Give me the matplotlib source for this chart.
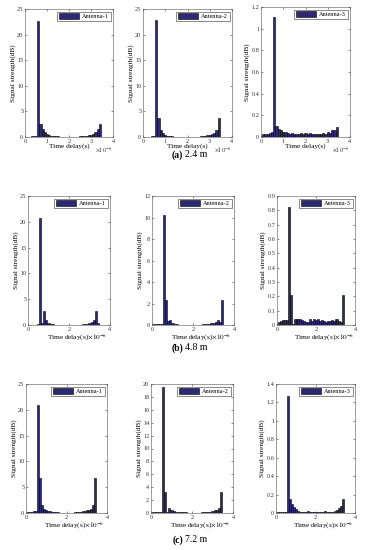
import matplotlib
matplotlib.use("Agg")
import matplotlib.pyplot as plt
from matplotlib.ticker import FormatStrFormatter

plt.rcParams['font.family'] = ['Liberation Serif', 'DejaVu Serif']
plt.rcParams['mathtext.fontset'] = 'stix'

# bar centres (x 10^-6 s)
delay = [0.1, 0.2, 0.3, 0.4, 0.5, 0.6, 0.7, 0.8, 0.9, 1.0, 1.1, 1.2, 1.3, 1.4, 1.5, 1.6, 1.7,
         1.8, 1.9, 2.0, 2.1, 2.2, 2.3, 2.4, 2.5, 2.6, 2.7, 2.8, 2.9, 3.0, 3.1, 3.2, 3.3, 3.4]

# 2.4 m
a24_1 = [0.05, 0.08, 0.1, 0.15, 0.25, 22.6, 2.5, 1.6, 0.9, 0.55, 0.35, 0.25, 0.18, 0.14, 0.1, 0.08, 0.07,
         0.06, 0.05, 0.05, 0.05, 0.06, 0.07, 0.08, 0.1, 0.13, 0.17, 0.22, 0.3, 0.42, 0.6, 0.95, 1.5, 2.5]
a24_2 = [0.05, 0.06, 0.08, 0.12, 0.2, 22.8, 3.7, 1.3, 0.8, 0.45, 0.28, 0.18, 0.12, 0.09, 0.07, 0.05, 0.04,
         0.04, 0.03, 0.03, 0.03, 0.04, 0.05, 0.06, 0.08, 0.1, 0.15, 0.2, 0.3, 0.45, 0.65, 0.85, 1.3, 3.7]
a24_3 = [0.03, 0.03, 0.03, 0.035, 0.045, 1.11, 0.1, 0.07, 0.065, 0.045, 0.05, 0.035, 0.03, 0.035, 0.03, 0.025, 0.03,
         0.035, 0.03, 0.035, 0.03, 0.035, 0.03, 0.025, 0.03, 0.03, 0.03, 0.035, 0.03, 0.045, 0.035, 0.06, 0.065, 0.095]
# 4.8 m
a48_1 = [0.05, 0.05, 0.06, 0.08, 0.1, 20.7, 0.4, 2.8, 1.0, 0.3, 0.15, 0.1, 0.08, 0.06, 0.05, 0.04, 0.04,
         0.03, 0.03, 0.03, 0.03, 0.03, 0.04, 0.05, 0.06, 0.08, 0.1, 0.15, 0.2, 0.3, 0.5, 1.0, 2.8, 0.4]
a48_2 = [0.05, 0.05, 0.05, 0.06, 0.08, 10.2, 2.3, 0.35, 0.5, 0.2, 0.08, 0.05, 0.04, 0.03, 0.03, 0.03, 0.03,
         0.03, 0.03, 0.03, 0.03, 0.03, 0.03, 0.04, 0.05, 0.06, 0.08, 0.1, 0.15, 0.2, 0.3, 0.5, 0.3, 2.3]
a48_3 = [0.02, 0.03, 0.035, 0.035, 0.035, 0.82, 0.21, 0.01, 0.04, 0.045, 0.04, 0.04, 0.035, 0.03, 0.02, 0.02, 0.04,
         0.025, 0.04, 0.035, 0.04, 0.03, 0.035, 0.025, 0.02, 0.03, 0.03, 0.035, 0.03, 0.045, 0.04, 0.03, 0.02, 0.21]
# 7.2 m
a72_1 = [0.2, 0.22, 0.25, 0.3, 0.4, 21.0, 6.8, 1.5, 0.7, 0.5, 0.4, 0.3, 0.22, 0.17, 0.13, 0.1, 0.08,
         0.07, 0.06, 0.06, 0.06, 0.07, 0.08, 0.1, 0.13, 0.17, 0.22, 0.3, 0.4, 0.5, 0.6, 0.7, 1.5, 6.8]
a72_2 = [0.1, 0.15, 0.12, 0.1, 0.15, 19.6, 3.3, 0.15, 0.7, 0.45, 0.3, 0.2, 0.15, 0.1, 0.15, 0.1, 0.08,
         0.06, 0.05, 0.05, 0.05, 0.05, 0.05, 0.06, 0.08, 0.1, 0.12, 0.15, 0.2, 0.3, 0.4, 0.5, 0.7, 3.3]
a72_3 = [0.01, 0.01, 0.01, 0.012, 0.015, 1.27, 0.155, 0.1, 0.06, 0.04, 0.02, 0.015, 0.01, 0.01, 0.015, 0.02, 0.015,
         0.01, 0.008, 0.008, 0.008, 0.01, 0.01, 0.015, 0.02, 0.015, 0.01, 0.008, 0.01, 0.02, 0.03, 0.05, 0.08, 0.155]

rows = [[a24_1, a24_2, a24_3], [a48_1, a48_2, a48_3], [a72_1, a72_2, a72_3]]
labels = ['Antenna-1', 'Antenna-2', 'Antenna-3']
ymax = [[25, 25, 1.2], [25, 12, 0.9], [25, 20, 1.4]]
ystep = [[5, 5, 0.2], [5, 2, 0.1], [5, 2, 0.2]]
captions = [('(a)', '2.4 m'), ('(b)', '4.8 m'), ('(c)', '7.2 m')]

# axes boxes in pixels: left, right, top, bottom
boxes = [[(25, 113, 9, 137), (143, 232, 9, 137), (261, 350, 7, 137)],
         [(28, 110, 196, 325), (152, 234, 196, 325), (277, 355, 196, 325)],
         [(26, 107, 384, 513), (151, 233, 384, 513), (276, 355, 384, 513)]]
cap_y = [155, 348, 540]

W, H = 366, 550
fig = plt.figure(figsize=(W / 100, H / 100), dpi=100)
bar_col = '#2c2a74'

for r in range(3):
    for c in range(3):
        l, rr, t, b = boxes[r][c]
        ax = fig.add_axes([l / W, 1 - b / H, (rr - l) / W, (b - t) / H])
        ax.bar(delay, rows[r][c], width=0.1, color=bar_col, edgecolor='black',
               linewidth=0.4, label=labels[c])
        ax.set_xlim(0, 4)
        ax.set_ylim(0, ymax[r][c])
        st = ystep[r][c]
        n = int(round(ymax[r][c] / st))
        ax.set_yticks([round(i * st, 2) for i in range(n + 1)])
        ax.yaxis.set_major_formatter(FormatStrFormatter('%g'))
        if r == 0:
            ax.set_xticks([0, 1, 2, 3, 4])
            ax.set_xlabel('Time delay(s)', fontsize=5.2, labelpad=0)
            ax.text(0.8, -0.07, r'$\times10^{-6}$', transform=ax.transAxes,
                    fontsize=4.5, va='top', ha='left', color='#333333')
        else:
            ax.set_xticks([0, 2, 4])
            ax.set_xlabel(r'Time delay(s)$\times10^{-6}$', fontsize=5.2, labelpad=0.5, x=0.6)
        ax.set_ylabel('Signal strength(dB)', fontsize=5.2, labelpad=1)
        ax.tick_params(direction='in', length=1.5, width=0.4, labelsize=4.5, pad=1.2,
                       top=True, right=True, colors='#333333')
        for s in ax.spines.values():
            s.set_linewidth(0.4)
            s.set_color('#555555')
        leg = ax.legend(loc='upper right', fontsize=4.5, frameon=True, fancybox=False,
                        handlelength=3.2, handleheight=0.9, borderpad=0.3, handletextpad=0.4,
                        borderaxespad=0.4)
        leg.get_frame().set_edgecolor('black')
        leg.get_frame().set_linewidth(0.4)
    tag, dist = captions[r]
    fig.text(183 / W, 1 - cap_y[r] / H, tag, fontsize=7, fontweight='bold', ha='right', va='center')
    fig.text(185 / W, 1 - cap_y[r] / H, dist, fontsize=7, ha='left', va='center')

fig.savefig('out.png', dpi=100)
